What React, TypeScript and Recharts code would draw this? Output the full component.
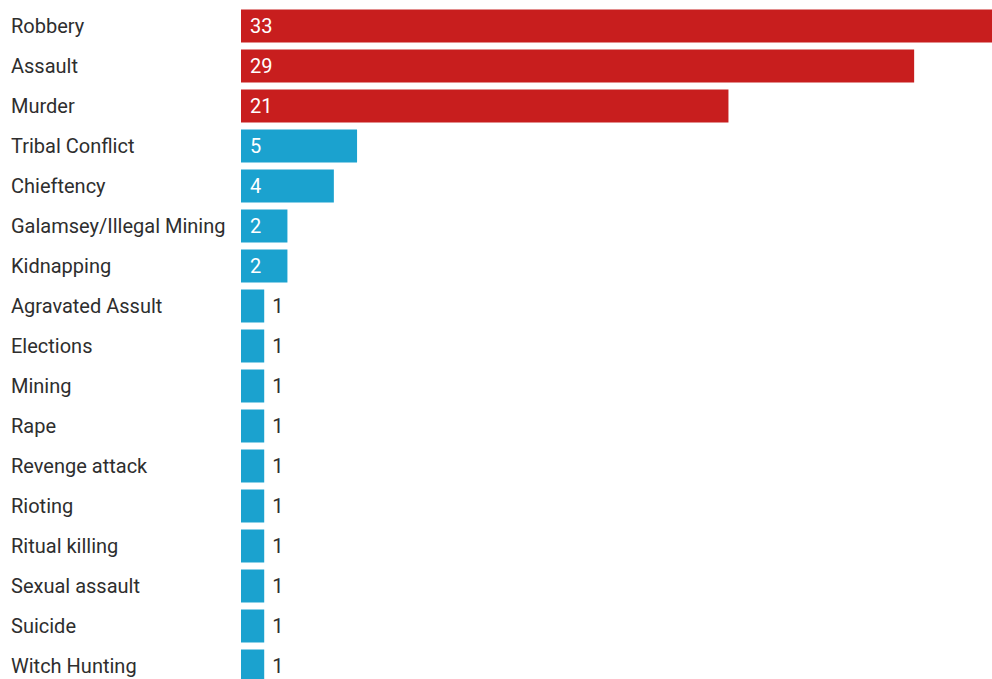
import React from "react";
import { BarChart, Bar, XAxis, YAxis, Cell, LabelList } from "recharts";

const categories = [
  "Robbery",
  "Assault",
  "Murder",
  "Tribal Conflict",
  "Chieftency",
  "Galamsey/Illegal Mining",
  "Kidnapping",
  "Agravated Assult",
  "Elections",
  "Mining",
  "Rape",
  "Revenge attack",
  "Rioting",
  "Ritual killing",
  "Sexual assault",
  "Suicide",
  "Witch Hunting",
];

const counts = [33, 29, 21, 5, 4, 2, 2, 1, 1, 1, 1, 1, 1, 1, 1, 1, 1];

const highlightCount = 3;

const RED = "#C81E1E";
const BLUE = "#1BA2CF";
const TEXT = "#2e2e2e";
const FONT = "Roboto, 'Noto Sans', sans-serif";
const FONT_SIZE = 20;

const data = categories.map((name, i) => ({ name, value: counts[i] }));

const CategoryTick = (props: any) => {
  const { y, payload } = props;
  return (
    <text
      x={11}
      y={y}
      dy="0.35em"
      textAnchor="start"
      fill={TEXT}
      fontFamily={FONT}
      fontSize={FONT_SIZE}
    >
      {payload.value}
    </text>
  );
};

const ValueLabel = (props: any) => {
  const { x, y, width, height, value } = props;
  const inside = value >= 2;
  return (
    <text
      x={inside ? x + 9 : x + width + 8}
      y={y + height / 2}
      dy="0.35em"
      textAnchor="start"
      fill={inside ? "#ffffff" : TEXT}
      fontFamily={FONT}
      fontSize={FONT_SIZE}
    >
      {value}
    </text>
  );
};

export default function App() {
  return (
    <div
      style={{
        position: "fixed",
        left: 0,
        top: 0,
        width: 992,
        height: 679,
        overflow: "hidden",
        background: "#ffffff",
      }}
    >
      <BarChart
        width={1010}
        height={690}
        data={data}
        layout="vertical"
        margin={{ top: 5.5, right: 3, bottom: 4.5, left: 0 }}
        barSize={33}
      >
        <XAxis type="number" domain={[0, 33]} hide />
        <YAxis
          type="category"
          dataKey="name"
          width={241}
          axisLine={false}
          tickLine={false}
          tick={<CategoryTick />}
          interval={0}
        />
        <Bar dataKey="value" isAnimationActive={false}>
          {data.map((d, i) => (
            <Cell key={d.name} fill={i < highlightCount ? RED : BLUE} />
          ))}
          <LabelList dataKey="value" content={<ValueLabel />} />
        </Bar>
      </BarChart>
    </div>
  );
}
